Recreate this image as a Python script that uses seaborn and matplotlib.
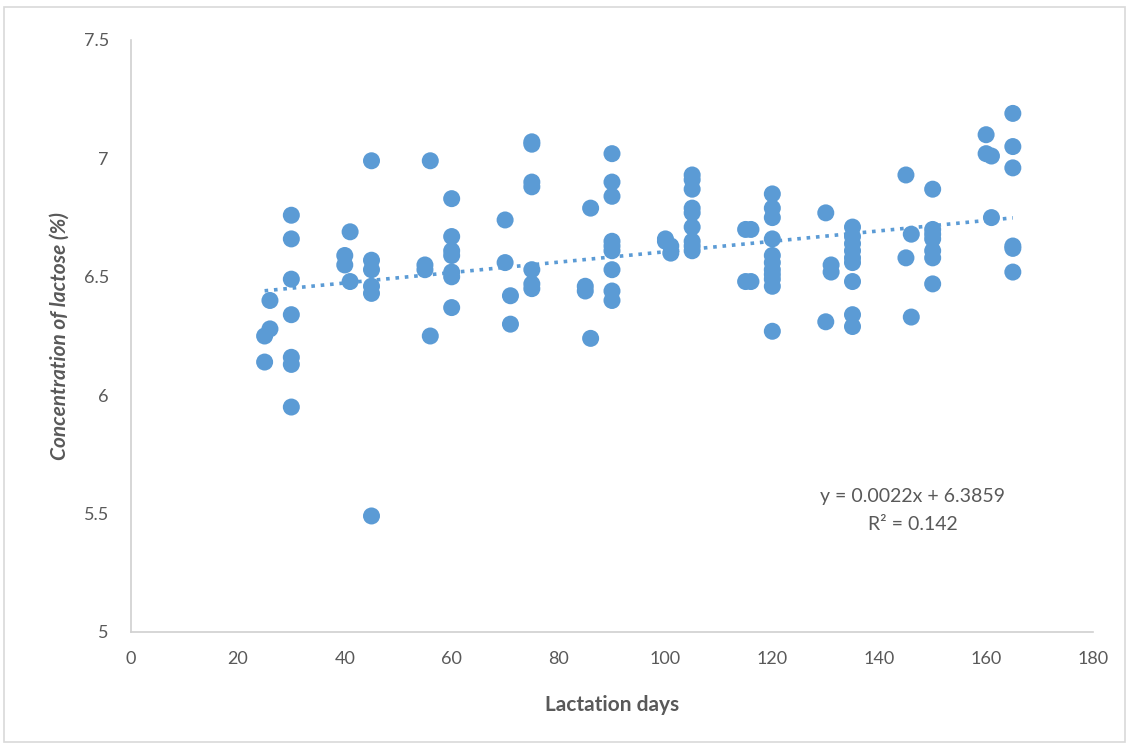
import numpy as np
import pandas as pd
import matplotlib
matplotlib.use("Agg")
import matplotlib.pyplot as plt
import seaborn as sns

days = [25, 25, 26, 26,
        30, 30, 30, 30, 30, 30, 30,
        40, 40, 41, 41,
        45, 45, 45, 45, 45, 45,
        55, 55, 56, 56,
        60, 60, 60, 60, 60, 60, 60,
        70, 70, 71, 71,
        75, 75, 75, 75, 75, 75, 75,
        85, 85, 86, 86,
        90, 90, 90, 90, 90, 90, 90, 90, 90,
        100, 100, 101, 101,
        105, 105, 105, 105, 105, 105, 105, 105, 105,
        115, 115, 116, 116,
        120, 120, 120, 120, 120, 120, 120, 120, 120, 120, 120,
        130, 130, 131, 131,
        135, 135, 135, 135, 135, 135, 135, 135, 135,
        145, 145, 146, 146,
        150, 150, 150, 150, 150, 150, 150,
        160, 160, 161, 161,
        165, 165, 165, 165, 165, 165]
lactose = [6.25, 6.14, 6.40, 6.28,
           6.76, 6.66, 6.49, 6.34, 6.16, 6.13, 5.95,
           6.59, 6.55, 6.69, 6.48,
           6.99, 6.57, 6.53, 6.46, 6.43, 5.49,
           6.55, 6.53, 6.99, 6.25,
           6.83, 6.67, 6.61, 6.59, 6.52, 6.50, 6.37,
           6.74, 6.56, 6.42, 6.30,
           7.07, 7.06, 6.90, 6.88, 6.53, 6.47, 6.45,
           6.46, 6.44, 6.79, 6.24,
           7.02, 6.90, 6.84, 6.65, 6.63, 6.61, 6.53, 6.44, 6.40,
           6.66, 6.65, 6.63, 6.60,
           6.93, 6.91, 6.87, 6.79, 6.77, 6.71, 6.65, 6.63, 6.61,
           6.70, 6.48, 6.70, 6.48,
           6.85, 6.79, 6.75, 6.66, 6.59, 6.56, 6.53, 6.51, 6.49, 6.46, 6.27,
           6.77, 6.31, 6.55, 6.52,
           6.71, 6.67, 6.64, 6.61, 6.58, 6.56, 6.48, 6.34, 6.29,
           6.93, 6.58, 6.68, 6.33,
           6.87, 6.70, 6.68, 6.66, 6.61, 6.58, 6.47,
           7.10, 7.02, 7.01, 6.75,
           7.19, 7.05, 6.96, 6.63, 6.62, 6.52]

slope = 0.0022
intercept = 6.3859
r_squared = 0.142

x_ticks = [0, 20, 40, 60, 80, 100, 120, 140, 160, 180]
y_ticks = [5, 5.5, 6, 6.5, 7, 7.5]
y_tick_labels = ["5", "5.5", "6", "6.5", "7", "7.5"]

sns.set_theme(style="white")
plt.rcParams['font.family'] = ['Lato', 'DejaVu Sans']

blue = "#5B9BD5"
grey_text = "#595959"

df = pd.DataFrame({"days": days, "lactose": lactose})
xs = np.array([min(days), max(days)])
trend = pd.DataFrame({"days": xs, "fit": slope * xs + intercept})

fig = plt.figure(figsize=(11.3, 7.46), dpi=100)
ax = fig.add_axes([131/1130, 1 - 632/746, (1093-131)/1130, (632-40)/746])

sns.scatterplot(data=df, x="days", y="lactose", ax=ax, color=blue, s=150,
                edgecolor="none", linewidth=0, zorder=3)
sns.lineplot(data=trend, x="days", y="fit", ax=ax, color=blue,
             linestyle=(0, (1, 1.6)), linewidth=2.6, zorder=2)

ax.set_xlim(0, 180)
ax.set_ylim(5, 7.5)
ax.set_xticks(x_ticks)
ax.set_xticklabels([str(t) for t in x_ticks])
ax.set_yticks(y_ticks)
ax.set_yticklabels(y_tick_labels)
ax.tick_params(axis="both", length=0, labelsize=13, colors=grey_text)
ax.tick_params(axis="x", pad=14)
ax.tick_params(axis="y", pad=16)

for s in ["top", "right"]:
    ax.spines[s].set_visible(False)
for s in ["left", "bottom"]:
    ax.spines[s].set_color("#D0D0D0")
    ax.spines[s].set_linewidth(1.2)

ax.set_xlabel("Lactation days", fontsize=15, fontweight="bold", color=grey_text, labelpad=20)
ax.set_ylabel("Concentration of lactose (%)", fontsize=15, fontweight="bold",
              style="italic", color=grey_text, labelpad=10)

ax.text(146.3, 5.574, f"y = {slope}x + {intercept}", ha="center", va="center",
        fontsize=14, color=grey_text)
ax.text(146.3, 5.456, f"R² = {r_squared}", ha="center", va="center",
        fontsize=14, color=grey_text)

border = plt.Rectangle((4/1130, 4/746), 1 - 9/1130, 1 - 11/746, transform=fig.transFigure,
                       fill=False, edgecolor="#D9D9D9", linewidth=1.2)
fig.patches.append(border)

fig.savefig("out.png", dpi=100)
